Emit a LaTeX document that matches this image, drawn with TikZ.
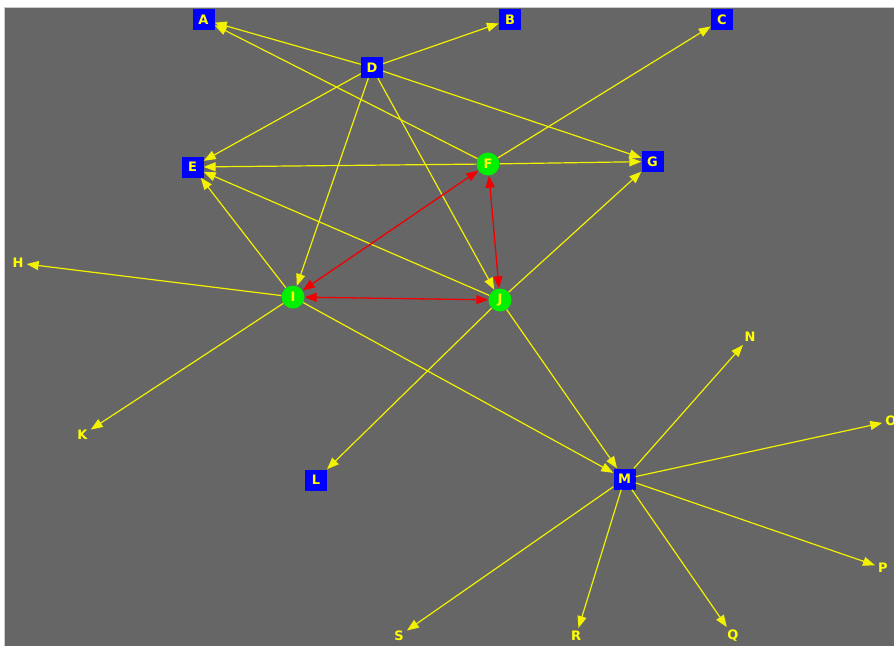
\documentclass[tikz,border=0pt]{standalone}
\usepackage{fontspec}
\setmainfont{DejaVu Sans}
\usetikzlibrary{arrows.meta}
\definecolor{bg}{HTML}{666666}
\definecolor{yel}{HTML}{F2F200}
\definecolor{ylab}{HTML}{FFFF00}
\definecolor{bl}{HTML}{0000FF}
\definecolor{gr}{HTML}{00F000}
\definecolor{rd}{HTML}{F00000}
\tikzset{
  sq/.style={fill=bl, minimum width=22pt, minimum height=21pt, inner sep=0pt, text=ylab, font=\fontsize{13}{13}\selectfont\bfseries},
  gn/.style={circle, fill=gr, minimum size=23pt, inner sep=0pt, text=ylab, font=\fontsize{13}{13}\selectfont\bfseries},
  lb/.style={inner sep=3pt, text=ylab, font=\fontsize{13}{13}\selectfont\bfseries},
  ye/.style={draw=yel, line width=1.2pt, -{Triangle[length=12pt,width=9pt]}},
  re/.style={draw=rd, line width=1.3pt, {Triangle[length=12pt,width=9pt]}-{Triangle[length=12pt,width=9pt]}},
}
\begin{document}
\begin{tikzpicture}[x=1pt,y=-1pt]
\useasboundingbox (0,0) rectangle (894,646);
\fill[white] (0,0) rectangle (894,646);
\fill[bg] (4,7) rectangle (894,646);
\draw[gray!40, line width=1pt] (4,646) -- (4,7) -- (894,7);
% nodes
\node[sq] (A) at (203.5,19.5) {A};
\node[sq] (B) at (510,19.5) {B};
\node[sq] (C) at (722,19.5) {C};
\node[sq] (D) at (372,67.5) {D};
\node[sq] (E) at (192.5,167) {E};
\node[gn] (F) at (488,164) {F};
\node[sq] (G) at (652.5,161.5) {G};
\node[lb] (H) at (18,263) {H};
\node[gn] (I) at (293,297) {I};
\node[gn] (J) at (500,300) {J};
\node[lb] (K) at (82.5,435) {K};
\node[sq] (L) at (316,480) {L};
\node[sq] (M) at (624.5,479) {M};
\node[lb] (N) at (750,337) {N};
\node[lb] (O) at (891,421) {O};
\node[lb] (P) at (883,568) {P};
\node[lb] (Q) at (733,636) {Q};
\node[lb] (R) at (576,636) {R};
\node[lb] (S) at (399,636) {S};
% yellow edges
\draw[ye] (D) -- (A);
\draw[ye] (F) -- (A);
\draw[ye] (D) -- (B);
\draw[ye] (F) -- (C);
\draw[ye] (D) -- (E);
\draw[ye] (F) -- (E);
\draw[ye] (I) -- (E);
\draw[ye] (J) -- (E);
\draw[ye] (D) -- (G);
\draw[ye] (F) -- (G);
\draw[ye] (J) -- (G);
\draw[ye] (D) -- (I);
\draw[ye] (D) -- (J);
\draw[ye] (I) -- (H);
\draw[ye] (I) -- (K);
\draw[ye] (I) -- (M);
\draw[ye] (J) -- (M);
\draw[ye] (J) -- (L);
\draw[ye] (M) -- (N);
\draw[ye] (M) -- (O);
\draw[ye] (M) -- (P);
\draw[ye] (M) -- (Q);
\draw[ye] (M) -- (R);
\draw[ye] (M) -- (S);
% red edges
\draw[re] (I) -- (F);
\draw[re] (I) -- (J);
\draw[re] (F) -- (J);
\end{tikzpicture}
\end{document}
